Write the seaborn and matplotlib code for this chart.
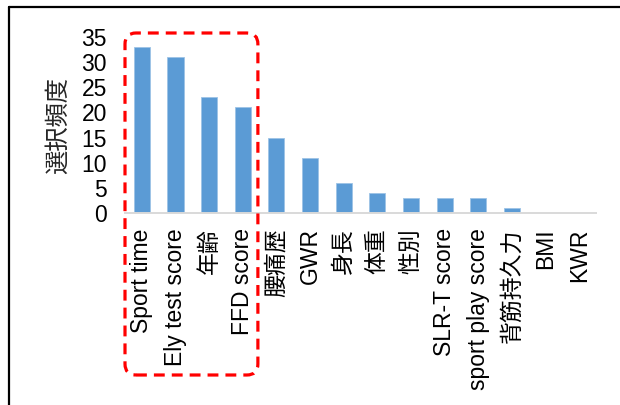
import matplotlib
matplotlib.use("Agg")
import matplotlib.pyplot as plt
import seaborn as sns
import pandas as pd
from matplotlib.patches import FancyBboxPatch
from matplotlib.lines import Line2D
from matplotlib.transforms import IdentityTransform

# Selection frequency of each candidate variable
categories = ["Sport time", "Ely test score", "年齢", "FFD score", "腰痛歴", "GWR",
              "身長", "体重", "性別", "SLR-T score", "sport play score", "背筋持久力",
              "BMI", "KWR"]
frequency = [33, 31, 23, 21, 15, 11, 6, 4, 3, 3, 3, 1, 0, 0]
y_ticks = [0, 5, 10, 15, 20, 25, 30, 35]
y_label = "選択頻度"

sns.set_theme(style="white")
plt.rcParams["font.family"] = ["Liberation Sans", "Noto Sans CJK JP"]

df = pd.DataFrame({"item": categories, "freq": frequency})

W, H, DPI = 620, 405, 100
fig = plt.figure(figsize=(W / DPI, H / DPI), dpi=DPI)
ax = fig.add_axes([125 / W, 192 / H, 471 / W, 176 / H])

sns.barplot(data=df, x="item", y="freq", order=categories, color="#5B9BD5",
            saturation=1, width=0.48, edgecolor="#9DC3E6", linewidth=0.6, ax=ax)

ax.set_xlim(-0.5, len(categories) - 0.5)
ax.set_ylim(0, 35)
ax.set_yticks(y_ticks)
ax.set_yticklabels([str(t) for t in y_ticks], fontsize=16.5)
ax.set_xticks(range(len(categories)))
ax.set_xticklabels(categories, rotation=90, fontsize=16.5, va="top", ha="center")
ax.tick_params(axis="y", length=0, pad=13, colors="black")
ax.tick_params(axis="x", length=0, pad=11, colors="black")
ax.set_xlabel("")
ax.set_ylabel(y_label, fontsize=17.5, rotation=90, va="center")
ax.yaxis.set_label_coords(-0.142, 0.5)

for side in ["left", "right", "top"]:
    ax.spines[side].set_visible(False)
ax.spines["bottom"].set_color("#D9D9D9")
ax.spines["bottom"].set_linewidth(1.4)

# Dashed rounded frame around the top four variables
x_left = ax.transData.transform((-0.5, 0))[0]
x_right = ax.transData.transform((3.45, 0))[0]
y_bottom, y_top = 30, 372
frame = FancyBboxPatch((x_left, y_bottom), x_right - x_left, y_top - y_bottom,
                       boxstyle="round,pad=0,rounding_size=11",
                       transform=IdentityTransform(), fill=False,
                       edgecolor="#FF0000", linewidth=2.3,
                       linestyle=(0, (3.4, 2.2)), zorder=5)
fig.add_artist(frame)

# Outer border (top and left edges)
fig.add_artist(Line2D([9, W], [H - 7, H - 7], transform=IdentityTransform(),
                      color="black", linewidth=1.6))
fig.add_artist(Line2D([9, 9], [0, H - 7], transform=IdentityTransform(),
                      color="black", linewidth=1.6))

fig.savefig("out.png", dpi=DPI)
